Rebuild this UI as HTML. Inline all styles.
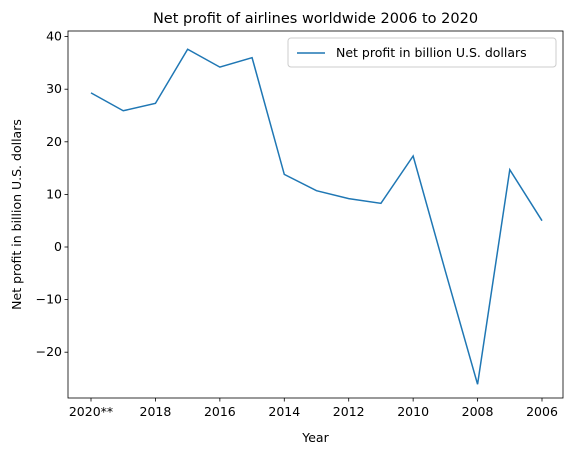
<!DOCTYPE html>
<html><head><meta charset="utf-8"><style>
body{margin:0;background:#fff;font-family:"Liberation Sans","DejaVu Sans",sans-serif;}
svg text{font-family:"DejaVu Sans","Liberation Sans",sans-serif;}
</style></head><body>
<svg id="c" width="574" height="455" xmlns="http://www.w3.org/2000/svg"></svg>
<script>
const categories=["2020**","2019","2018","2017","2016","2015","2014","2013","2012","2011","2010","2009","2008","2007","2006"];
const values=[29.3,25.9,27.3,37.6,34.2,36.0,13.8,10.7,9.2,8.3,17.3,-4.6,-26.1,14.7,5.0];
const yTicks=[-20,-10,0,10,20,30,40];
const xTickLabels=["2020**","2018","2016","2014","2012","2010","2008","2006"];

const svg=document.getElementById('c');
const NS="http://www.w3.org/2000/svg";
const L=68,R=563,T=31,B=398;
const x0=91,step=(542-91)/14;
function xs(i){return x0+i*step;}
function ys(v){return 247-v*5.26;}
function mk(tag,attrs,name,text){const e=document.createElementNS(NS,tag);for(const k in attrs)e.setAttribute(k,attrs[k]);


if(text!==undefined)e.textContent=text;svg.appendChild(e);return e;}
mk('rect',{x:L,y:T,width:R-L,height:B-T,fill:'none',stroke:'#000','stroke-width':0.8},'plot-frame');
yTicks.forEach(v=>{const y=ys(v);
mk('line',{x1:L-3.5,x2:L,y1:y,y2:y,stroke:'#000','stroke-width':0.8},'y-tick');
mk('text',{x:L-6,y:y+4,'text-anchor':'end','font-size':12.5},'y-tick-label',v<0?'\u2212'+Math.abs(v):String(v));});
xTickLabels.forEach(lab=>{const i=categories.indexOf(lab);const x=xs(i);
mk('line',{x1:x,x2:x,y1:B,y2:B+3.5,stroke:'#000','stroke-width':0.8},'x-tick');
mk('text',{x:x,y:B+18,'text-anchor':'middle','font-size':12.5},'x-tick-label',lab);});
mk('polyline',{points:values.map((v,i)=>xs(i)+','+ys(v)).join(' '),fill:'none',stroke:'#1f77b4','stroke-width':1.5},'profit-line');
mk('text',{x:(L+R)/2,y:23,'text-anchor':'middle','font-size':14.5},'chart-title','Net profit of airlines worldwide 2006 to 2020');
mk('text',{x:(L+R)/2,y:442,'text-anchor':'middle','font-size':12.5},'x-axis-title','Year');
mk('text',{x:21,y:(T+B)/2,'text-anchor':'middle','font-size':12.5,transform:'rotate(-90 21 '+((T+B)/2)+')'},'y-axis-title','Net profit in billion U.S. dollars');
mk('rect',{x:288,y:38,width:268,height:29,rx:3,fill:'#fff',stroke:'#ccc','stroke-width':1},'legend-box');
mk('line',{x1:297,x2:325,y1:53,y2:53,stroke:'#1f77b4','stroke-width':1.5},'legend-line');
mk('text',{x:336,y:57,'font-size':12.5},'legend-entry','Net profit in billion U.S. dollars');
</script>
</body></html>
